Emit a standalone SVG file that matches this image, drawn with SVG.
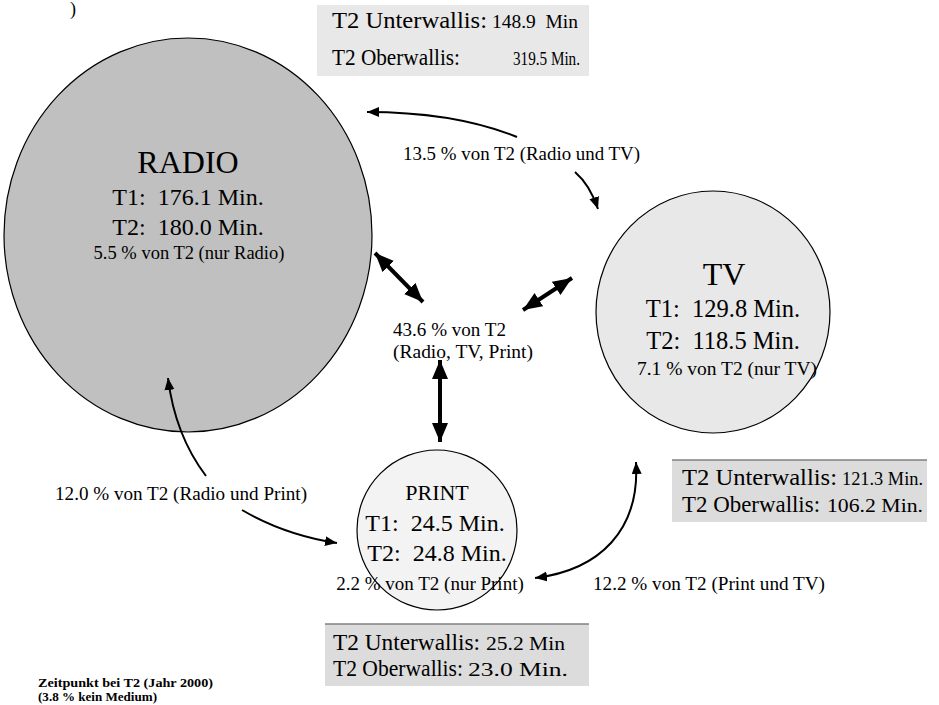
<svg xmlns="http://www.w3.org/2000/svg" width="939" height="705" viewBox="0 0 939 705">
<style>
text{font-family:"Liberation Serif","Times New Roman",serif;fill:#000}
.node{stroke:#000;stroke-width:1.2}
.thin{fill:none;stroke:#000;stroke-width:2}
.thick{fill:none;stroke:#000;stroke-width:4}
.box{stroke:none}
.boxline{stroke:#808080;stroke-width:1.5}
.b{font-weight:bold}
</style>
<defs>
<marker id="ah" markerUnits="userSpaceOnUse" markerWidth="14" markerHeight="11" refX="12" refY="5" orient="auto-start-reverse"><path d="M0,0 L12,5 L0,10 z" fill="#000"/></marker>
<marker id="ahb" markerUnits="userSpaceOnUse" markerWidth="20" markerHeight="17" refX="19" refY="8" orient="auto-start-reverse"><path d="M0,0 L19,8 L0,16 z" fill="#000"/></marker>
</defs>
<text x="70" y="15" font-size="18">)</text>
<g id="radio">
<ellipse class="node" cx="188" cy="235" rx="184" ry="197" fill="#c0c0c0"/>
<text x="188" y="173" font-size="32" text-anchor="middle">RADIO</text>
<text x="188" y="205" font-size="24" text-anchor="middle" xml:space="preserve">T1:  176.1 Min.</text>
<text x="188" y="235" font-size="24" text-anchor="middle" xml:space="preserve">T2:  180.0 Min.</text>
<text x="189" y="259" font-size="18.5" text-anchor="middle">5.5 % von T2 (nur Radio)</text>
</g>
<g id="tv">
<ellipse class="node" cx="713" cy="312" rx="117" ry="121" fill="#e8e8e8"/>
<text x="724" y="285" font-size="32" text-anchor="middle">TV</text>
<text x="723" y="317" font-size="24.5" text-anchor="middle" xml:space="preserve">T1:  129.8 Min.</text>
<text x="723" y="349" font-size="24.5" text-anchor="middle" xml:space="preserve">T2:  118.5 Min.</text>
<text x="727" y="375" font-size="19.5" text-anchor="middle">7.1 % von T2 (nur TV)</text>
</g>
<g id="print">
<ellipse class="node" cx="437" cy="530" rx="80" ry="80" fill="#f3f3f3"/>
<text x="437" y="500" font-size="22" text-anchor="middle">PRINT</text>
<text x="435" y="531" font-size="24" text-anchor="middle" xml:space="preserve">T1:  24.5 Min.</text>
<text x="437" y="561" font-size="24" text-anchor="middle" xml:space="preserve">T2:  24.8 Min.</text>
<text x="430" y="590" font-size="19" text-anchor="middle">2.2 % von T2 (nur Print)</text>
</g>
<g id="box-top">
<rect class="box" x="317" y="5" width="272" height="71" fill="#e8e8e8"/>
<text x="332" y="28" font-size="23" textLength="155" lengthAdjust="spacingAndGlyphs">T2 Unterwallis:</text>
<text x="492" y="28" font-size="18" textLength="86" lengthAdjust="spacingAndGlyphs" xml:space="preserve">148.9  Min</text>
<text x="332" y="65" font-size="23" textLength="128" lengthAdjust="spacingAndGlyphs">T2 Oberwallis:</text>
<text x="513" y="65" font-size="18" textLength="67" lengthAdjust="spacingAndGlyphs">319.5 Min.</text>
</g>
<g id="box-tv">
<rect class="box" x="672" y="460" width="255" height="62" fill="#dcdcdc"/>
<line class="boxline" x1="672" y1="460" x2="927" y2="460"/>
<text x="682" y="485" font-size="23" textLength="155" lengthAdjust="spacingAndGlyphs">T2 Unterwallis:</text>
<text x="842" y="485" font-size="18" textLength="81" lengthAdjust="spacingAndGlyphs">121.3 Min.</text>
<text x="682" y="512" font-size="23" textLength="138" lengthAdjust="spacingAndGlyphs">T2 Oberwallis:</text>
<text x="827" y="512" font-size="18" textLength="96" lengthAdjust="spacingAndGlyphs">106.2 Min.</text>
</g>
<g id="box-print">
<rect class="box" x="325" y="624" width="264" height="62" fill="#dcdcdc"/>
<line class="boxline" x1="325" y1="624" x2="589" y2="624"/>
<text x="333" y="650" font-size="23" textLength="147" lengthAdjust="spacingAndGlyphs">T2 Unterwallis:</text>
<text x="486" y="650" font-size="18" textLength="79" lengthAdjust="spacingAndGlyphs">25.2 Min</text>
<text x="333" y="676" font-size="23" textLength="130" lengthAdjust="spacingAndGlyphs">T2 Oberwallis:</text>
<text x="468" y="676" font-size="18" textLength="100" lengthAdjust="spacingAndGlyphs">23.0 Min.</text>
</g>
<g id="connectors">
<path class="thin" d="M517,137 Q455,112 367,112" marker-end="url(#ah)"/>
<path class="thin" d="M575,172 Q590,185 598,209" marker-end="url(#ah)"/>
<text x="403" y="160" font-size="19" textLength="237" lengthAdjust="spacingAndGlyphs">13.5 % von T2 (Radio und TV)</text>
<path class="thin" d="M206,476 Q175,435 168,378" marker-end="url(#ah)"/>
<path class="thin" d="M242,510 Q285,535 337,543" marker-end="url(#ah)"/>
<text x="55" y="500" font-size="19.5" textLength="252" lengthAdjust="spacingAndGlyphs">12.0 % von T2 (Radio und Print)</text>
<path class="thin" d="M535,578 C600,570 640,530 636,462" marker-start="url(#ah)" marker-end="url(#ah)"/>
<text x="593" y="590" font-size="19.5" textLength="232" lengthAdjust="spacingAndGlyphs">12.2 % von T2 (Print und TV)</text>
<line class="thick" x1="375" y1="253" x2="423" y2="302" marker-start="url(#ahb)" marker-end="url(#ahb)"/>
<line class="thick" x1="572" y1="278" x2="523" y2="310" marker-start="url(#ahb)" marker-end="url(#ahb)"/>
<line class="thick" x1="440" y1="360" x2="440" y2="442" marker-start="url(#ahb)" marker-end="url(#ahb)"/>
<text x="393" y="336" font-size="19.5" textLength="113" lengthAdjust="spacingAndGlyphs">43.6 % von T2</text>
<text x="393" y="358" font-size="19.5" textLength="140" lengthAdjust="spacingAndGlyphs">(Radio, TV, Print)</text>
</g>
<text class="b" x="38" y="687" font-size="11.5" textLength="175" lengthAdjust="spacingAndGlyphs">Zeitpunkt bei T2 (Jahr 2000)</text>
<text class="b" x="38" y="701" font-size="11.5" textLength="119" lengthAdjust="spacingAndGlyphs">(3.8 % kein Medium)</text>
</svg>
